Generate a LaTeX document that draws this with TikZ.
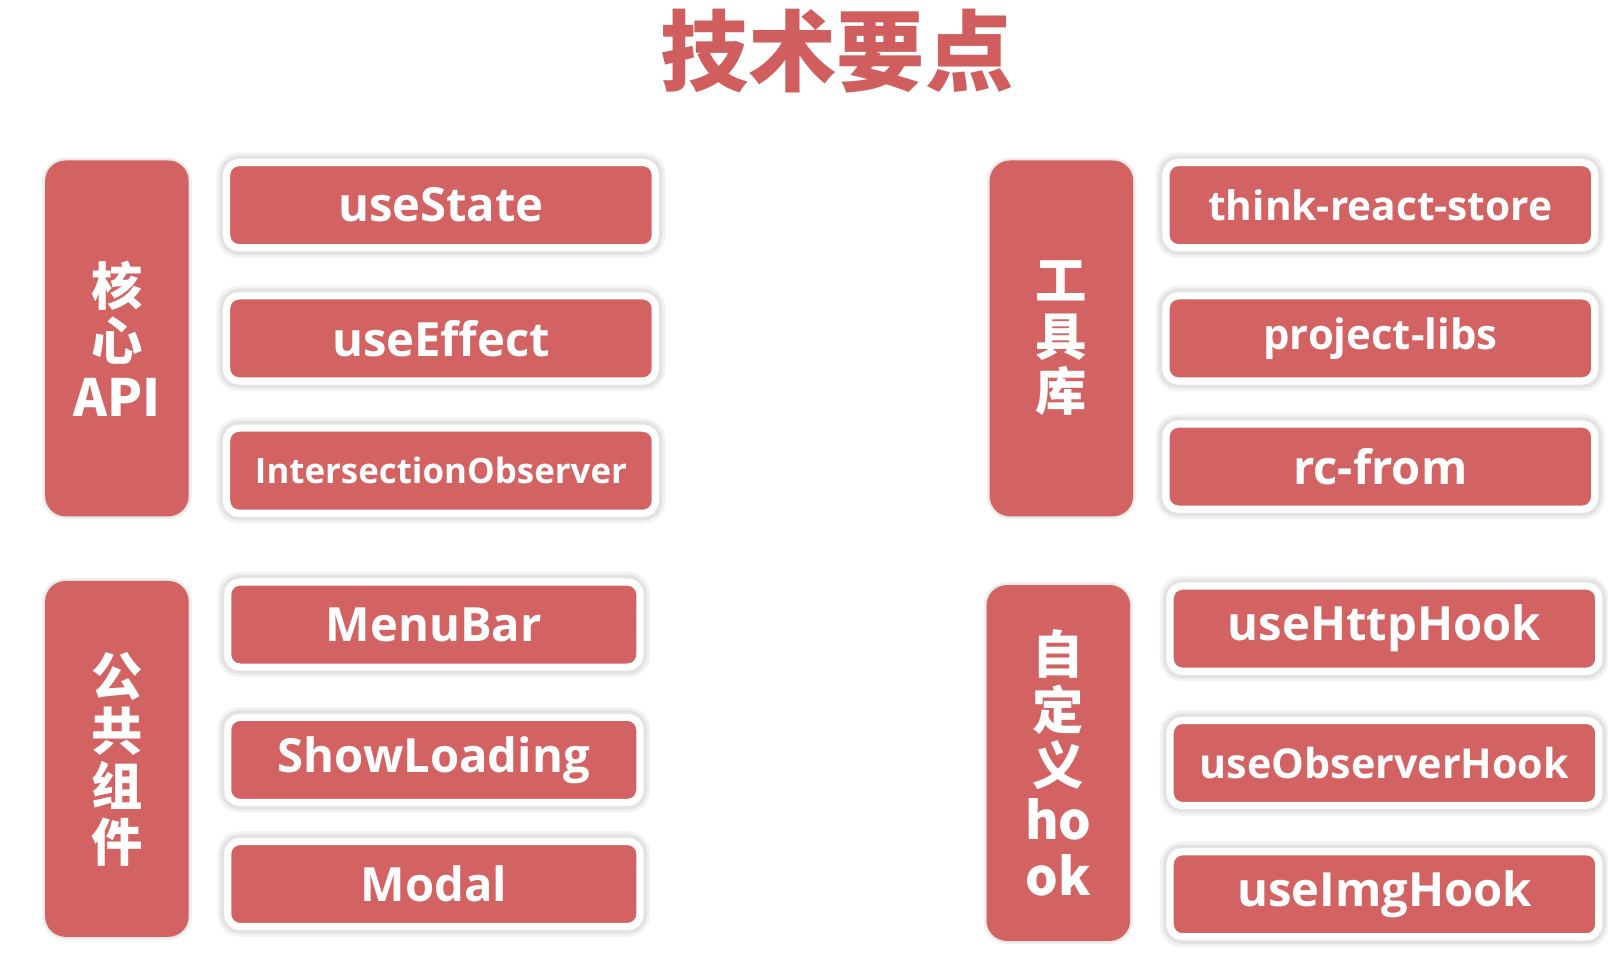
\documentclass[tikz,border=0pt]{standalone}
\usepackage{fontspec}
\setmainfont{Open Sans}
\newfontfamily\cjk{Noto Sans CJK SC}
\usetikzlibrary{positioning}

\definecolor{boxred}{RGB}{211,99,99}
\definecolor{titlered}{RGB}{208,94,94}

\begin{document}
\begin{tikzpicture}[x=0.5pt, y=-0.5pt,
    group/.style={fill=boxred, rounded corners=10pt, minimum width=70pt, minimum height=173.5pt,
        text=white, align=center, font=\cjk\bfseries\fontsize{25}{27}\selectfont,
        preaction={draw=black!5, line width=3pt}, preaction={draw=black!9, line width=1.5pt}},
    item/.style={fill=boxred, draw=white, line width=3.5pt, rounded corners=6pt,
        minimum width=209pt, minimum height=41.5pt, text=white, inner sep=0pt,
        font=\bfseries\fontsize{23}{26}\selectfont,
        preaction={draw=black!5, line width=10pt}, preaction={draw=black!11, line width=7pt}}]
        \useasboundingbox (0,0) rectangle (1568,932);

        \node[text=titlered, font=\cjk\bfseries\fontsize{43}{46}\selectfont] (title) at (816,50) {技术要点};

        % core api
        \node[group] (core) at (114,330) {核\\心\\API};
        \node[item] (state) at (430,200) {useState};
        \node[item] (effect) at (430,330) {useEffect};
        \node[item, font=\bfseries\fontsize{17}{20}\selectfont] (observer) at (430,459) {IntersectionObserver};

        % shared components
        \node[group] (shared) at (114,740) {公\\共\\组\\件};
        \node[item, minimum width=201pt] (menubar) at (423,609) {MenuBar};
        \node[item, minimum width=201pt] (loading) at (423,741) {ShowLoading};
        \node[item, minimum width=201pt] (modal) at (423,862) {Modal};

        % tool libs
        \node[group] (tools) at (1035,330) {工\\具\\库};
        \node[item, font=\bfseries\fontsize{19.8}{22}\selectfont] (store) at (1346,200) {think-react-store};
        \node[item, font=\bfseries\fontsize{20.4}{23}\selectfont] (libs) at (1346,330) {project-libs};
        \node[item] (rcform) at (1346,455) {rc-from};

        % custom hooks
        \node[group] (hooks) at (1032,744) {自\\定\\义\\ho\\ok};
        \node[item] (http) at (1350,613) {useHttpHook};
        \node[item, font=\bfseries\fontsize{20.1}{23}\selectfont] (obshook) at (1350,744) {useObserverHook};
        \node[item] (img) at (1350,872) {useImgHook};
    \end{tikzpicture}
\end{document}
